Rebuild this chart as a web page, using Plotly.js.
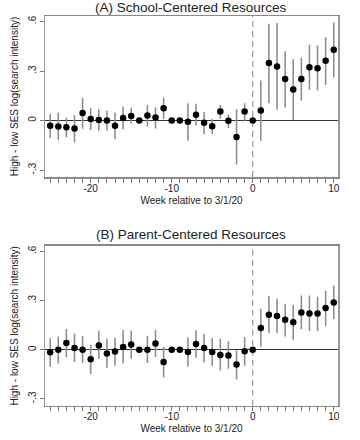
<!DOCTYPE html>
<html><head><meta charset="utf-8">
<script src="https://cdn.plot.ly/plotly-3.0.1.min.js"></script>
<style>body{margin:0;background:#fff}#c{width:360px;height:440px}</style>
</head><body><div id="c"></div>
<script>
const weeks = [-25,-24,-23,-22,-21,-20,-19,-18,-17,-16,-15,-14,-13,-12,-11,-10,-9,-8,-7,-6,-5,-4,-3,-2,-1,0,1,2,3,4,5,6,7,8,9,10];

// Panel A: School-centered resources
const schoolEst = [-0.032,-0.036,-0.040,-0.048,0.045,0.010,0.004,0.000,-0.032,0.016,0.028,0.000,0.030,0.018,0.075,0.000,0.000,-0.008,0.035,-0.014,-0.034,0.055,-0.002,-0.099,0.055,0.000,0.061,0.348,0.327,0.251,0.188,0.251,0.323,0.317,0.362,0.428];
const schoolHi  = [0.039,0.048,0.018,0.032,0.137,0.075,0.069,0.059,0.048,0.085,0.077,0.000,0.095,0.081,0.139,0.000,0.000,0.105,0.101,0.051,0.010,0.095,0.037,0.069,0.105,0.000,0.243,0.586,0.590,0.420,0.372,0.380,0.459,0.455,0.505,0.594];
const schoolLo  = [-0.105,-0.119,-0.101,-0.133,-0.050,-0.058,-0.062,-0.062,-0.113,-0.052,-0.018,0.000,-0.036,-0.048,0.010,0.000,0.000,-0.123,-0.028,-0.083,-0.083,0.012,-0.046,-0.267,-0.002,0.000,-0.123,0.105,0.065,0.079,0.004,0.121,0.186,0.182,0.216,0.261];

// Panel B: Parent-centered resources
const parentEst = [-0.016,0.000,0.040,0.010,0.000,-0.059,0.026,-0.023,-0.012,0.016,0.032,0.000,0.000,0.038,-0.075,0.000,0.000,-0.014,0.034,0.010,-0.014,-0.033,-0.035,-0.091,-0.010,0.000,0.132,0.213,0.205,0.183,0.168,0.227,0.221,0.221,0.254,0.288];
const parentHi  = [0.069,0.081,0.128,0.097,0.083,0.030,0.116,0.067,0.073,0.120,0.116,0.000,0.085,0.118,0.018,0.000,0.000,0.075,0.118,0.095,0.069,0.067,0.051,-0.004,0.077,0.000,0.250,0.327,0.311,0.280,0.274,0.331,0.331,0.323,0.360,0.392];
const parentLo  = [-0.104,-0.084,-0.047,-0.075,-0.081,-0.148,-0.057,-0.110,-0.098,-0.085,-0.055,0.000,-0.081,-0.045,-0.169,0.000,0.000,-0.104,-0.049,-0.079,-0.100,-0.128,-0.116,-0.181,-0.098,0.000,0.016,0.101,0.101,0.081,0.061,0.124,0.114,0.114,0.144,0.185];

const yTickVals = [-0.3, 0, 0.3, 0.6];
const yTickText = ['-.3', '0', '.3', '.6'];
const xLabelled = [-20, -10, 0, 10];

const panelTitles = ['(A) School-Centered Resources', '(B) Parent-Centered Resources'];
const xTitle = 'Week relative to 3/1/20';
const yTitle = 'High - low SES log(search intensity)';

function trace(est, hi, lo, xa, ya) {
  return {
    x: weeks, y: est, xaxis: xa, yaxis: ya, type: 'scatter', mode: 'markers',
    marker: {color: '#000', size: 6.5},
    error_y: {type: 'data', symmetric: false,
      array: hi.map((h, i) => h - est[i]),
      arrayminus: lo.map((l, i) => est[i] - l),
      color: '#8e8e8e', thickness: 1.6, width: 0},
    hoverinfo: 'x+y', showlegend: false
  };
}

const font = {family: 'Liberation Sans, Arial, sans-serif', color: '#222'};
function xax(dom, anchor) {
  return {domain: dom, anchor: anchor, range: [-25.64, 10.53],
    tickmode: 'array', tickvals: weeks,
    ticktext: weeks.map(w => xLabelled.includes(w) ? String(w) : ''),
    ticks: 'outside', ticklen: 4, tickcolor: '#777', tickwidth: 1, ticklabelstandoff: -3,
    showgrid: false, zeroline: false, showline: true, linecolor: '#888', linewidth: 1.5, mirror: true,
    tickfont: {size: 10, family: font.family, color: '#222'},
    title: {text: xTitle, font: {size: 10, family: font.family, color: '#222'}, standoff: 4}};
}
function yax(dom, anchor) {
  return {domain: dom, anchor: anchor, range: [-0.342, 0.633],
    tickmode: 'array', tickvals: yTickVals, ticktext: yTickText, tickangle: -90,
    ticks: 'outside', ticklen: 4, tickcolor: '#777',
    showgrid: false, zeroline: true, zerolinecolor: '#333', zerolinewidth: 1.2,
    showline: true, linecolor: '#999', linewidth: 1.5, mirror: true,
    tickfont: {size: 10, family: font.family, color: '#222'},
    title: {text: yTitle, font: {size: 10, family: font.family, color: '#222'}, standoff: 6}};
}

const data = [
  trace(schoolEst, schoolHi, schoolLo, 'x', 'y'),
  trace(parentEst, parentHi, parentLo, 'x2', 'y2')
];

const layout = {
  width: 360, height: 440, margin: {l: 0, r: 0, t: 0, b: 0},
  paper_bgcolor: '#fff', plot_bgcolor: '#fff', font: font,
  xaxis: xax([0.125, 0.939], 'y'),
  yaxis: yax([0.5977, 0.9636], 'x'),
  xaxis2: xax([0.125, 0.939], 'y2'),
  yaxis2: yax([0.078, 0.441], 'x2'),
  shapes: [
    {type: 'line', xref: 'x', yref: 'y domain', x0: 0, x1: 0, y0: 0, y1: 1, line: {color: '#999', width: 1.2, dash: '6px,4px'}, layer: 'below'},
    {type: 'line', xref: 'x2', yref: 'y2 domain', x0: 0, x1: 0, y0: 0, y1: 1, line: {color: '#999', width: 1.2, dash: '6px,4px'}, layer: 'below'}
  ],
  annotations: [
    {text: panelTitles[0], xref: 'paper', yref: 'paper', x: 0.53, y: 0.984, showarrow: false, font: {size: 13.5, family: font.family, color: '#222'}, xanchor: 'center', yanchor: 'middle'},
    {text: panelTitles[1], xref: 'paper', yref: 'paper', x: 0.53, y: 0.466, showarrow: false, font: {size: 13.5, family: font.family, color: '#222'}, xanchor: 'center', yanchor: 'middle'}
  ]
};

Plotly.newPlot('c', data, layout, {displayModeBar: false, staticPlot: true});
</script>
</body></html>
